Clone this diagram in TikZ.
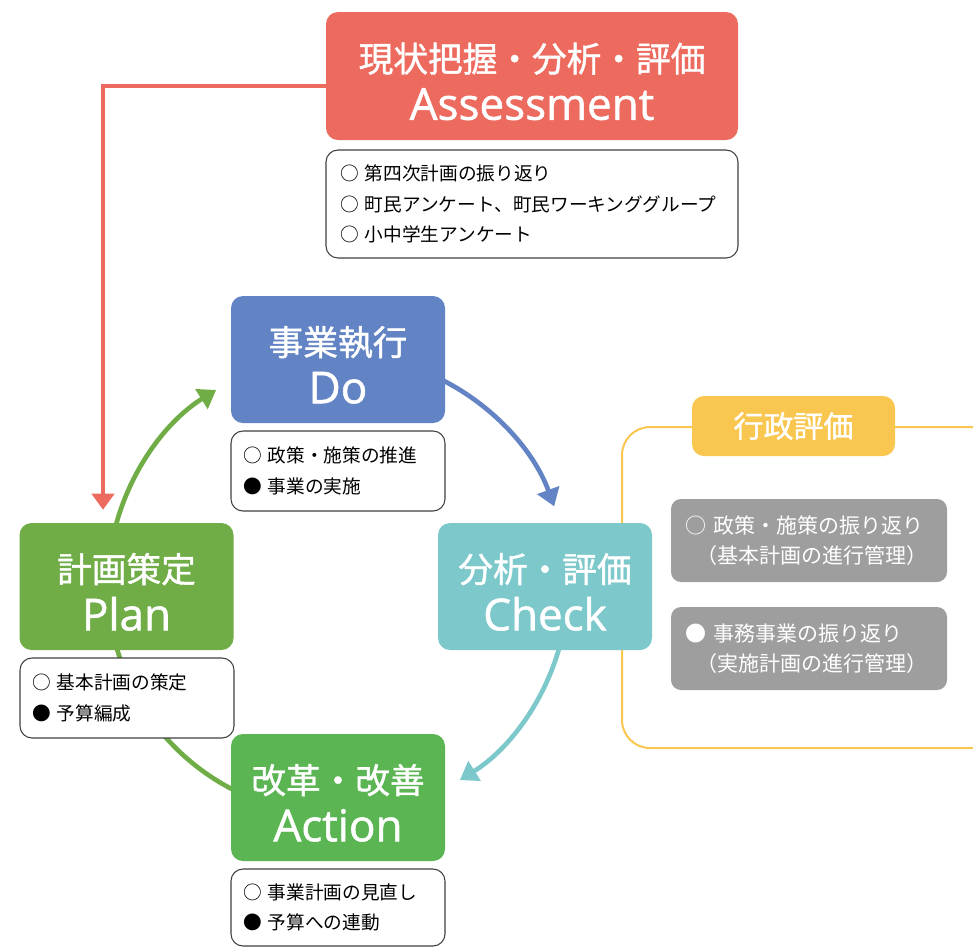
\documentclass[tikz,border=0pt]{standalone}
\usepackage{fontspec}
\setmainfont{Noto Sans CJK JP}
\newfontfamily\titlefont[FakeBold=1.2]{Noto Sans CJK JP}
\newfontfamily\enfont[FakeBold=1.2]{Open Sans}
\usetikzlibrary{arrows.meta}

\definecolor{assessred}{HTML}{EC6B5E}
\definecolor{doblue}{HTML}{6283C4}
\definecolor{plangreen}{HTML}{70AD47}
\definecolor{checkteal}{HTML}{7DC8CB}
\definecolor{actgreen}{HTML}{5BB553}
\definecolor{evalyellow}{HTML}{F9C74F}
\definecolor{evalgray}{HTML}{9E9E9E}
\definecolor{listline}{HTML}{404040}

% title of one phase: Japanese over English
\newcommand{\phasetitle}[2]{{\titlefont\fontsize{26pt}{36pt}\selectfont\rule{0pt}{30pt}#1}\\{\enfont #2}}

\begin{document}
\begin{tikzpicture}[x=0.75pt, y=-0.75pt,
    phasebox/.style={rounded corners=9pt, text=white, align=center, inner sep=0pt,
        minimum width=160.5pt, minimum height=95.25pt,
        font=\fontsize{33pt}{36pt}\selectfont},
    listbox/.style={draw=listline, line width=0.8pt, fill=white, rounded corners=9pt,
        align=left, inner xsep=9pt, text width=142.5pt, minimum height=60pt,
        font=\fontsize{14pt}{23pt}\selectfont},
    graybox/.style={fill=evalgray, rounded corners=7.5pt, text=white, align=left,
        inner xsep=11pt, text width=185pt, minimum height=62.25pt,
        font=\fontsize{15.75pt}{23pt}\selectfont},
    cycarrow/.style={line width=3.5pt, -{Triangle[length=13pt, width=17pt]}}]
    \useasboundingbox (0,0) rectangle (973,947);
    \clip (0,0) rectangle (973,947);
    \coordinate (c) at (338,585);

    % administrative evaluation frame
    \draw[evalyellow, line width=1.5pt, rounded corners=21pt] (622,427) rectangle (1000,748);

    % the PDCA circle
    \foreach \a/\b/\col in {-167/-122/plangreen, -65/-20/doblue, 14/58/checkteal}
        \draw[cycarrow, \col] (c) ++(\a:230) arc[start angle=\a, end angle=\b, radius=230];
    \draw[line width=3.5pt, plangreen] (c) ++(115:230) arc[start angle=115, end angle=170, radius=230];

    \node[phasebox, fill=assessred, minimum width=309pt, minimum height=96pt] (assess) at (532,76)
        {\phasetitle{現状把握・分析・評価}{Assessment}};
    \node[listbox, text width=288pt, inner xsep=10.5pt, minimum height=81pt] (assesslist) at (532,204)
        {○~第四次計画の振り返り\\○~町民アンケート、町民ワーキンググループ\\○~小中学生アンケート};

    \node[phasebox, fill=doblue] (do) at (338,359.5) {\phasetitle{事業執行}{Do}};
    \node[listbox] (dolist) at (338,471) {○~政策・施策の推進\\●~事業の実施};

    \node[phasebox, fill=plangreen] (plan) at (126.5,586.5) {\phasetitle{計画策定}{Plan}};
    \node[listbox] (planlist) at (127,698) {○~基本計画の策定\\●~予算編成};

    \node[phasebox, fill=checkteal] (check) at (545,586.5) {\phasetitle{分析・評価}{Check}};

    \node[phasebox, fill=actgreen] (act) at (338,797.5) {\phasetitle{改革・改善}{Action}};
    \node[listbox, minimum height=57.75pt] (actlist) at (338,907.5) {○~事業計画の見直し\\●~予算への連動};

    \node[fill=evalyellow, rounded corners=9pt, text=white, minimum width=152.25pt,
        minimum height=45pt, font=\titlefont\fontsize{22.5pt}{24pt}\selectfont] (evallabel) at (793.5,426) {行政評価};
    \node[graybox] (policyrev) at (809,540.5) {○~政策・施策の振り返り\\\hspace*{0.5em}（基本計画の進行管理）};
    \node[graybox] (bizrev) at (809,648.5) {●~事務事業の振り返り\\\hspace*{0.5em}（実施計画の進行管理）};

    % feedback from assessment into planning
    \draw[assessred, line width=3pt, -{Triangle[length=12pt, width=16.5pt]}]
        ([yshift=-7.5pt]assess.west) -| ([xshift=-17.6pt, yshift=9.75pt]plan.north);
\end{tikzpicture}
\end{document}
